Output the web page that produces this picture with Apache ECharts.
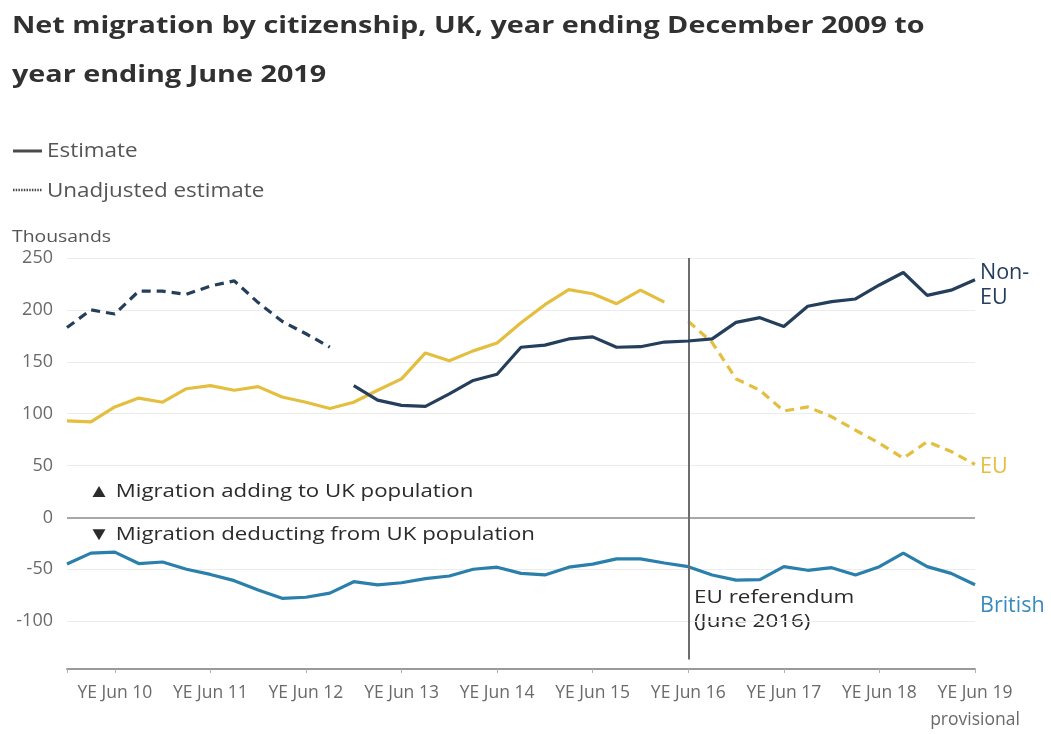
<!DOCTYPE html>
<html>
<head>
<meta charset="utf-8">
<script src="https://cdn.jsdelivr.net/npm/echarts@6/dist/echarts.min.js"></script>
<style>
  html, body { margin: 0; padding: 0; background: #ffffff; }
  #chart { width: 1051px; height: 734px; }
</style>
</head>
<body>
<div id="chart"></div>
<script>
// Quarterly periods, year ending December 2009 to year ending June 2019
const quarters = [
  'YE Dec 09', 'YE Mar 10', 'YE Jun 10', 'YE Sep 10',
  'YE Dec 10', 'YE Mar 11', 'YE Jun 11', 'YE Sep 11',
  'YE Dec 11', 'YE Mar 12', 'YE Jun 12', 'YE Sep 12',
  'YE Dec 12', 'YE Mar 13', 'YE Jun 13', 'YE Sep 13',
  'YE Dec 13', 'YE Mar 14', 'YE Jun 14', 'YE Sep 14',
  'YE Dec 14', 'YE Mar 15', 'YE Jun 15', 'YE Sep 15',
  'YE Dec 15', 'YE Mar 16', 'YE Jun 16', 'YE Sep 16',
  'YE Dec 16', 'YE Mar 17', 'YE Jun 17', 'YE Sep 17',
  'YE Dec 17', 'YE Mar 18', 'YE Jun 18', 'YE Sep 18',
  'YE Dec 18', 'YE Mar 19', 'YE Jun 19'
];

// Net migration, thousands
// Non-EU: unadjusted estimate YE Dec 09 - YE Sep 12, estimate YE Dec 12 onwards
const nonEuUnadjusted = [183, 200, 196, 218, 218, 215, 223, 228, 207, 189, 177, 164];
const nonEuEstimate = [127, 113, 108, 107, 119, 132, 138, 164, 166, 172, 174, 164,
  164.5, 169, 170, 172, 188, 192.5, 184, 203.5, 208, 210.5, 224, 236, 214, 219, 229];
// EU: estimate YE Dec 09 - YE Mar 16, unadjusted estimate YE Jun 16 onwards
const euEstimate = [93, 92, 106.5, 115, 111, 124, 127, 122.5, 126, 116, 111, 105,
  111, 122.5, 133.5, 158.5, 151, 160.5, 168, 187.5, 205, 219.5, 215.5, 206, 219, 207.5];
const euUnadjusted = [189, 168.5, 133.5, 122.5, 102.5, 106.5, 97, 84, 71.5, 57, 73, 63.5, 51];
// British: estimate throughout
const british = [-45, -34.5, -33.5, -44.5, -43, -50, -55, -61, -70, -78, -77, -73,
  -62, -65, -63, -59, -56.5, -50, -48, -54, -55.5, -48, -45, -40,
  -40, -44, -47.5, -55.5, -60.5, -60, -47.5, -51, -48.5, -55.5, -47.5, -34.5, -47.5, -54, -65];

const yTicks = { min: -150, max: 250, step: 50 };

const referendumIndex = quarters.indexOf('YE Jun 16');

// Place a partial series onto the full quarterly axis
function place(values, startIndex) {
  const out = quarters.map(() => null);
  values.forEach((v, i) => { out[startIndex + i] = v; });
  return out;
}

const colNonEu = '#243e5c';
const colEu = '#e4be3e';
const colBritish = '#2b7fab';
const font = '"Open Sans", "Noto Sans", sans-serif';

const dashed = { type: [9, 6], width: 3.2 };
const solid = { type: 'solid', width: 3.2 };

// Left-anchored, vertically centred text block, widened a little
function label(text, x, y, size, opts) {
  opts = opts || {};
  return {
    type: 'text',
    x: x, y: y,
    scaleX: opts.scaleX || 1.2,
    style: {
      text: text,
      x: 0, y: 0,
      verticalAlign: 'middle',
      align: 'left',
      fill: opts.fill || '#2b2b2b',
      font: (opts.weight || 'normal') + ' ' + size + 'px ' + font,
      lineHeight: opts.lineHeight
    }
  };
}

const chart = echarts.init(document.getElementById('chart'), null, { renderer: 'canvas' });

const isJune = (idx) => idx % 4 === 2;

chart.setOption({
  animation: false,
  backgroundColor: '#ffffff',
  grid: { left: 67, top: 258, width: 908, height: 419.2, containLabel: false },
  xAxis: {
    type: 'category',
    data: quarters,
    boundaryGap: false,
    offset: -4,
    axisLine: { onZero: false, lineStyle: { color: '#9a9a9a', width: 2 } },
    axisTick: {
      alignWithLabel: true,
      interval: (idx) => isJune(idx) || idx === 0,
      length: 4,
      lineStyle: { color: '#b0b0b0', width: 1 }
    },
    axisLabel: {
      interval: (idx) => isJune(idx),
      formatter: (v) => (v === 'YE Jun 19' ? 'YE Jun 19\nprovisional' : v),
      color: '#6a6a6a',
      fontFamily: font,
      fontSize: 17.5,
      lineHeight: 27,
      margin: 11,
      verticalAlign: 'top'
    },
    splitLine: { show: false }
  },
  yAxis: {
    type: 'value',
    min: yTicks.min,
    max: yTicks.max,
    interval: yTicks.step,
    axisLine: { show: false },
    axisTick: { show: false },
    axisLabel: {
      showMinLabel: false,
      color: '#6a6a6a',
      fontFamily: font,
      fontSize: 18,
      margin: 14
    },
    splitLine: { showMinLine: false, lineStyle: { color: '#ececec', width: 1.2 } }
  },
  series: [
    {
      name: 'Non-EU unadjusted estimate',
      type: 'line',
      data: place(nonEuUnadjusted, 0),
      showSymbol: false,
      lineStyle: Object.assign({ color: colNonEu }, dashed),
      itemStyle: { color: colNonEu },
      z: 4
    },
    {
      name: 'Non-EU estimate',
      type: 'line',
      data: place(nonEuEstimate, nonEuUnadjusted.length),
      showSymbol: false,
      lineStyle: Object.assign({ color: colNonEu }, solid),
      itemStyle: { color: colNonEu },
      endLabel: {
        show: true,
        formatter: 'Non-\nEU',
        color: colNonEu,
        fontFamily: font,
        fontSize: 21.5,
        lineHeight: 25,
        distance: 5,
        offset: [0, 6]
      },
      z: 5
    },
    {
      name: 'EU estimate',
      type: 'line',
      data: place(euEstimate, 0),
      showSymbol: false,
      lineStyle: Object.assign({ color: colEu }, solid),
      itemStyle: { color: colEu },
      z: 3
    },
    {
      name: 'EU unadjusted estimate',
      type: 'line',
      data: place(euUnadjusted, euEstimate.length),
      showSymbol: false,
      lineStyle: Object.assign({ color: colEu }, dashed),
      itemStyle: { color: colEu },
      endLabel: {
        show: true,
        formatter: 'EU',
        color: colEu,
        fontFamily: font,
        fontSize: 21.5,
        distance: 5,
        offset: [0, 2]
      },
      z: 3
    },
    {
      name: 'British',
      type: 'line',
      data: british,
      showSymbol: false,
      lineStyle: Object.assign({ color: colBritish }, solid),
      itemStyle: { color: colBritish },
      endLabel: {
        show: true,
        formatter: 'British',
        color: '#3a8bbd',
        fontFamily: font,
        fontSize: 21.5,
        distance: 5,
        offset: [0, 21]
      },
      markLine: {
        silent: true,
        symbol: 'none',
        label: { show: false },
        data: [
          { yAxis: 0, lineStyle: { color: '#a8a8a8', width: 2, type: 'solid' } },
          [
            { coord: [referendumIndex, 250], lineStyle: { color: '#6d6d6d', width: 2, type: 'solid' } },
            { coord: [referendumIndex, -137] }
          ]
        ]
      },
      z: 3
    }
  ],
  graphic: [
    label('Net migration by citizenship, UK, year ending December 2009 to', 12, 26, 23,
      { weight: 'bold', fill: '#323132', scaleX: 1.25 }),
    label('year ending June 2019', 12, 75, 23, { weight: 'bold', fill: '#323132', scaleX: 1.25 }),
    { type: 'line', shape: { x1: 13, y1: 151, x2: 42, y2: 151 }, style: { stroke: '#4a4a4a', lineWidth: 3 } },
    label('Estimate', 47, 151, 19.5, { fill: '#555555', scaleX: 1.15 }),
    { type: 'line', shape: { x1: 13, y1: 190, x2: 42, y2: 190 }, style: { stroke: '#4a4a4a', lineWidth: 2.5, lineDash: [1.5, 1.2] } },
    label('Unadjusted estimate', 47, 191, 19.5, { fill: '#555555', scaleX: 1.15 }),
    label('Thousands', 12, 237, 17, { fill: '#555555', scaleX: 1.14 }),
    label('▲ Migration adding to UK population', 88, 492, 18.7, { scaleX: 1.19 }),
    label('▼ Migration deducting from UK population', 88, 535, 18.7, { scaleX: 1.19 }),
    label('EU referendum', 694, 598, 18.7, { scaleX: 1.2 }),
    label('(June 2016)', 694, 622, 18.7, { scaleX: 1.2 })
  ]
});
</script>
</body>
</html>
